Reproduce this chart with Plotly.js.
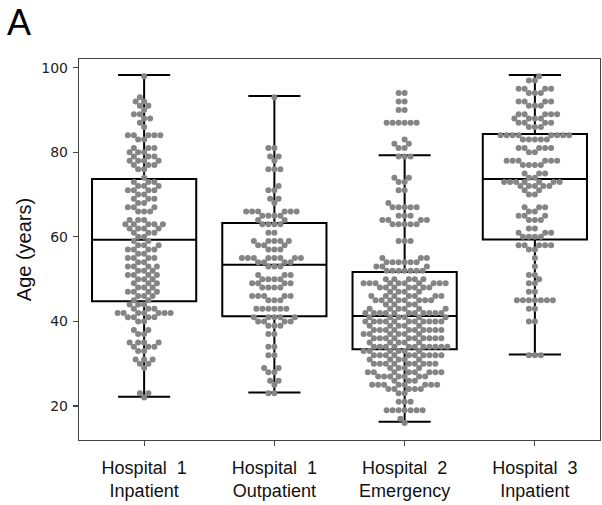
<!DOCTYPE html>
<html>
<head>
<meta charset="utf-8">
<script src="https://cdn.plot.ly/plotly-3.0.1.min.js"></script>
<style>html,body{margin:0;padding:0;background:#fff;}#chart{width:602px;height:505px;}</style>
</head>
<body>
<div id="chart"></div>
<script>
// ---- Data (ages in years) ----
const categories = ['Hospital\u00a0 1<br>Inpatient', 'Hospital\u00a0 1<br>Outpatient', 'Hospital\u00a0 2<br>Emergency', 'Hospital\u00a0 3<br>Inpatient'];

// box summary values
const boxQ1 = [44.8, 41.2, 33.4, 59.4];
const boxMedian = [59.3, 53.4, 41.3, 73.7];
const boxQ3 = [73.7, 63.3, 51.7, 84.3];
const boxLow = [22.2, 23.2, 16.3, 32.2];
const boxHigh = [98.3, 93.3, 79.3, 98.3];

// swarm points: ages and how many patients at each age
const g1Ages   = [98,93,92,91,90,89,88,87,86,84,83,81,80,79,78,77,76,74,73,72,71,70,69,68,67,66,64,63,62,61,60,59,58,57,56,55,54,53,52,51,50,49,48,47,46,45,44,43,42,41,40,38,37,35,34,33,31,30,29,23,22];
const g1Counts = [ 1, 1, 2, 2, 1, 2, 2, 1, 1, 5, 2, 3, 3, 3, 4, 3, 2, 1, 3, 3, 4, 2, 3, 2, 3, 3, 3, 5, 4, 3, 2, 2, 3, 4, 2, 4, 2, 4, 3, 4, 3, 3, 3, 4, 3, 2, 3, 3, 7, 4, 2, 2, 2, 4, 3, 2, 3, 2, 1, 2, 1];

const g2Ages   = [93,81,79,78,76,72,71,69,68,66,65,64,63,61,59,58,57,55,54,53,51,50,49,48,46,45,43,41,40,39,37,34,32,29,28,26,25,23];
const g2Counts = [ 1, 2, 2, 1, 3, 1, 2, 2, 1, 6, 4, 2, 4, 2, 5, 3, 3, 8, 4, 3, 3, 4, 4, 4, 5, 3, 6, 5, 4, 3, 2, 2, 2, 2, 2, 2, 1, 2];

const g3Ages   = [94,92,90,87,83,82,81,79,74,73,71,68,67,65,64,63,59,55,54,53,52,50,49,48,47,46,45,44,43,42,41,40,39,38,37,36,35,34,33,32,31,30,29,28,27,26,25,24,23,21,19,17,16];
const g3Counts = [ 2, 2, 2, 6, 1, 2, 2, 3, 2, 2, 2, 1, 5, 3, 4, 5, 3, 3, 6, 3, 7, 5,10, 7, 4, 7, 8, 4, 6,11, 6,11, 5,10, 6,10, 5,11, 6,10, 5, 9, 4, 8, 7, 3, 8, 5, 2, 3, 7, 1, 1];

const g4Ages   = [98,97,95,94,92,91,89,88,87,86,84,83,81,80,78,77,75,74,73,72,71,70,67,66,65,64,62,61,60,58,57,55,53,51,50,49,47,45,43,40,32];
const g4Counts = [ 1, 2, 4, 3, 4, 3, 5, 4, 4, 3, 8, 5, 5, 2, 6, 4, 3, 2, 7, 5, 2, 2, 3, 2, 3, 3, 2, 3, 4, 5, 2, 1, 1, 2, 1, 2, 2, 7, 2, 2, 3];

const groupAges = [g1Ages, g2Ages, g3Ages, g4Ages];
const groupCounts = [g1Counts, g2Counts, g3Counts, g4Counts];

// ---- Layout geometry ----
const W = 602, H = 505;
const M = {l: 79, r: 2, t: 59, b: 65};
const xRange = [-0.5, 3.5];
const yRange = [11.96, 102.06];
const plotW = W - M.l - M.r, plotH = H - M.t - M.b;
const pxPerX = plotW / (xRange[1] - xRange[0]);
const pxPerY = plotH / (yRange[1] - yRange[0]);
const DOT = 6;

function expand(ages, counts) {
  const out = [];
  ages.forEach((a, i) => { for (let k = 0; k < counts[i]; k++) out.push(a); });
  return out;
}

// beeswarm placement in pixel space, returns horizontal offsets in px
function swarm(vals, d) {
  const idx = vals.map((v, i) => i).sort((a, b) => vals[a] - vals[b]);
  const placed = [];
  const out = new Array(vals.length);
  for (const i of idx) {
    const y = vals[i] * pxPerY;
    const near = placed.filter(p => Math.abs(p.y - y) < d);
    const cands = [0];
    for (const p of near) {
      const dx = Math.sqrt(d * d - (p.y - y) * (p.y - y));
      cands.push(p.x - dx, p.x + dx);
    }
    cands.sort((a, b) => {
      const da = Math.abs(a) - Math.abs(b);
      if (Math.abs(da) > 1e-6) return da;
      return a - b;
    });
    let chosen = 0;
    for (const c of cands) {
      if (near.every(p => (p.x - c) * (p.x - c) + (p.y - y) * (p.y - y) >= d * d - 1e-6)) { chosen = c; break; }
    }
    placed.push({x: chosen, y: y});
    out[i] = chosen;
  }
  return out;
}

const traces = [];
for (let g = 0; g < 4; g++) {
  traces.push({
    type: 'box', x: [g], q1: [boxQ1[g]], median: [boxMedian[g]], q3: [boxQ3[g]],
    lowerfence: [boxLow[g]], upperfence: [boxHigh[g]],
    width: 0.8, whiskerwidth: 0.5, boxpoints: false,
    fillcolor: 'white', line: {color: 'black', width: 2},
    showlegend: false, hoverinfo: 'skip'
  });
}
for (let g = 0; g < 4; g++) {
  const vals = expand(groupAges[g], groupCounts[g]);
  const offs = swarm(vals, DOT);
  traces.push({
    type: 'scatter', mode: 'markers',
    x: vals.map((v, i) => g + offs[i] / pxPerX), y: vals,
    marker: {size: DOT, color: '#858585', line: {width: 0}},
    showlegend: false, hoverinfo: 'skip', cliponaxis: false
  });
}

const axisLine = {showline: true, linecolor: '#444', linewidth: 1.2, mirror: true, showgrid: false, zeroline: false,
  ticks: 'outside', ticklen: 5, tickwidth: 1.2, tickcolor: '#444'};

const layout = {
  width: W, height: H, margin: M,
  paper_bgcolor: 'white', plot_bgcolor: 'white',
  showlegend: false,
  xaxis: Object.assign({}, axisLine, {
    range: xRange, tickvals: [0, 1, 2, 3], ticktext: categories, ticklabelstandoff: 6,
    tickfont: {family: 'Liberation Sans, Arial, sans-serif', size: 18, color: '#111'}
  }),
  yaxis: Object.assign({}, axisLine, {
    range: yRange, tickvals: [20, 40, 60, 80, 100], ticklabelstandoff: 2,
    tickfont: {family: 'DejaVu Sans, sans-serif', size: 14, color: '#222'},
    title: {text: 'Age (years)', font: {family: 'Liberation Sans, Arial, sans-serif', size: 20, color: '#111'}, standoff: 4}
  }),
  annotations: [{
    text: 'A', xref: 'paper', yref: 'paper', x: -0.142, y: 1.155, xanchor: 'left', yanchor: 'top',
    showarrow: false, font: {family: 'Liberation Sans, Arial, sans-serif', size: 36, color: '#000'}
  }]
};

Plotly.newPlot('chart', traces, layout, {staticPlot: true, displayModeBar: false});
</script>
</body>
</html>
